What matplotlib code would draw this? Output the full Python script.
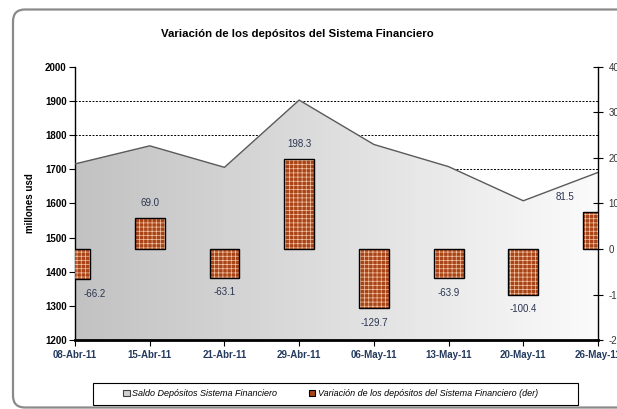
import numpy as np
import matplotlib
matplotlib.use('Agg')
import matplotlib.pyplot as plt
from matplotlib.patches import FancyBboxPatch, Patch, Rectangle
from matplotlib.colors import LinearSegmentedColormap

fechas = ['08-Abr-11', '15-Abr-11', '21-Abr-11', '29-Abr-11',
          '06-May-11', '13-May-11', '20-May-11', '26-May-11']
saldo = [1716, 1769, 1706, 1903, 1773, 1708, 1608, 1691]
variacion = [-66.2, 69.0, -63.1, 198.3, -129.7, -63.9, -100.4, 81.5]
etiquetas = ['-66.2', '69.0', '-63.1', '198.3', '-129.7', '-63.9', '-100.4', '81.5']

titulo = 'Variación de los depósitos del Sistema Financiero'
serie1 = 'Saldo Depósitos Sistema Financiero'
serie2 = 'Variación de los depósitos del Sistema Financiero (der)'

plt.rcParams['font.family'] = ['Liberation Sans', 'DejaVu Sans']
plt.rcParams['hatch.linewidth'] = 0.5
plt.rcParams['axes.unicode_minus'] = False

fig = plt.figure(figsize=(6.17, 4.09), dpi=100)

# marco redondeado de fondo
marco = FancyBboxPatch((0.13, 0.015), 6.5, 3.98,
                       boxstyle='round,pad=0,rounding_size=0.12',
                       transform=fig.dpi_scale_trans, facecolor='none',
                       edgecolor='#8a8a8a', linewidth=1.6, zorder=-1)
fig.patches.append(marco)

ax = fig.add_axes([0.1216, 0.1687, 0.8476, 0.6675])
ax.patch.set_alpha(0)
x = np.arange(len(fechas))

ax.set_xlim(0, len(fechas) - 1)
ax.set_ylim(1200, 2000)
ax.set_yticks(np.arange(1200, 2001, 100))

# lineas de guia punteadas
for v in ax.get_yticks()[1:-1]:
    ax.axhline(v, color='black', linestyle=(0, (2, 1.5)), linewidth=0.7, zorder=1)

# area con degradado
area = ax.fill_between(x, saldo, 1200, facecolor='none', edgecolor='none', zorder=2)
cmap = LinearSegmentedColormap.from_list('gris', ['#c2c2c2', '#fbfbfb'])
grad = np.linspace(0, 1, 256).reshape(1, -1)
img = ax.imshow(grad, cmap=cmap, extent=[0, len(fechas) - 1, 1200, 2000],
                aspect='auto', zorder=2, interpolation='bicubic')
img.set_clip_path(area.get_paths()[0], transform=ax.transData)
ax.plot(x, saldo, color='#5a5a5a', linewidth=1.0, zorder=3)

ax.set_xticks(x)
ax.set_xticklabels(fechas)
for s in ['top', 'right']:
    ax.spines[s].set_visible(False)
ax.spines['left'].set_linewidth(1.0)
ax.spines['bottom'].set_linewidth(2.0)
ax.tick_params(axis='y', direction='out', length=4, width=0.8, labelsize=7, pad=2)
ax.tick_params(axis='x', direction='out', length=4, width=0.8, labelsize=7, pad=3,
               labelcolor='#243a5e')
for t in ax.get_yticklabels() + ax.get_xticklabels():
    t.set_fontweight('bold')
ax.set_ylabel('millones usd', fontsize=7, fontweight='bold', labelpad=7)

# barras en eje derecho
ax2 = ax.twinx()
ax2.set_ylim(-200, 400)
ax2.set_yticks(np.arange(-200, 401, 100))
ax2.bar(x, variacion, width=0.4, color='#a94418', edgecolor='#f3c6a6',
        hatch='++++', linewidth=0, zorder=3)
ax2.bar(x, variacion, width=0.4, color='none', edgecolor='black',
        linewidth=1.0, zorder=4)
for s in ['top', 'left', 'bottom']:
    ax2.spines[s].set_visible(False)
ax2.spines['right'].set_linewidth(1.0)
ax2.tick_params(axis='y', direction='inout', length=7, width=0.8, labelsize=7, pad=4,
                labelcolor='#333333')

for i, (v, lab) in enumerate(zip(variacion, etiquetas)):
    dx = 0
    if i == 0:
        dx = 14
    elif i == len(fechas) - 1:
        dx = -24
    if v >= 0:
        ax2.annotate(lab, (i, v), xytext=(dx, 7), textcoords='offset points',
                     ha='center', va='bottom', fontsize=7, color='#2a3550')
    else:
        ax2.annotate(lab, (i, v), xytext=(dx, -7), textcoords='offset points',
                     ha='center', va='top', fontsize=7, color='#2a3550')

fig.text(0.482, 0.918, titulo, ha='center', va='center', fontsize=8.2,
         fontweight='bold')

# caja de la leyenda
caja = Rectangle((93 / 617, 1 - 405 / 409), 485 / 617, 22 / 409,
                 transform=fig.transFigure, facecolor='white',
                 edgecolor='black', linewidth=0.8, zorder=9)
fig.patches.append(caja)

handles = [Patch(facecolor='#d0d0d0', edgecolor='#404040', linewidth=0.8),
           Patch(facecolor='#a94418', edgecolor='black', linewidth=0.8)]
leg = fig.legend(handles, [serie1, serie2], loc='center', ncol=2,
                 bbox_to_anchor=(0.536, 0.037), frameon=False,
                 prop={'size': 6.5, 'style': 'italic'}, handlelength=0.7,
                 handleheight=0.7, handletextpad=0.3, columnspacing=3.5)
leg.set_zorder(10)

fig.savefig('out.png', dpi=100)
